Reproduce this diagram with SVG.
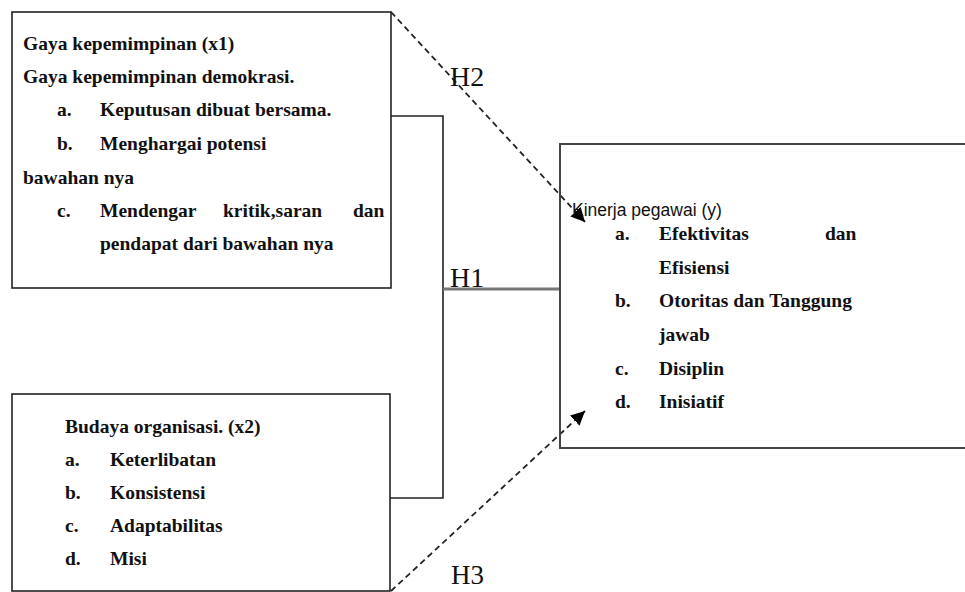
<svg xmlns="http://www.w3.org/2000/svg" width="965" height="592" viewBox="0 0 965 592">
<style>
.box{fill:#fff;stroke:#222;stroke-width:1.6}
.t{font-family:"Liberation Serif","Times New Roman",serif;font-weight:bold;font-size:19.5px;fill:#111}
.s{font-family:"Liberation Sans",Arial,sans-serif;font-size:17.5px;fill:#111}
.h{font-family:"Liberation Serif","Times New Roman",serif;font-size:28px;fill:#111}
.ln{fill:none;stroke:#222;stroke-width:1.6}
.dash{fill:none;stroke:#222;stroke-width:1.8;stroke-dasharray:6 4}
</style>
<defs>
<marker id="arr" viewBox="0 0 10 10" refX="10" refY="5" markerWidth="14" markerHeight="14" markerUnits="userSpaceOnUse" orient="auto">
<path d="M0,0 L10,5 L0,10 z" fill="#000"/>
</marker>
</defs>
<rect width="965" height="592" fill="#fff"/>
<g id="connectors">
<polyline class="ln" points="391,116 443,116 443,498 390,498"/>
<line x1="443" y1="289" x2="560" y2="289" stroke="#777" stroke-width="3"/>
<line class="dash" x1="391" y1="12" x2="585" y2="222" marker-end="url(#arr)"/>
<line class="dash" x1="391" y1="591" x2="585" y2="411" marker-end="url(#arr)"/>
<text class="h" x="450" y="86">H2</text>
<text class="h" x="450" y="287">H1</text>
<text class="h" x="451" y="584" style="font-size:27px">H3</text>
</g>
<g id="x1">
<rect class="box" x="12" y="12" width="379" height="276"/>
<text class="t" x="23" y="50">Gaya kepemimpinan (x1)</text>
<text class="t" x="23" y="83">Gaya kepemimpinan demokrasi.</text>
<text class="t" x="57" y="116">a.</text>
<text class="t" x="100" y="116">Keputusan dibuat bersama.</text>
<text class="t" x="57" y="150">b.</text>
<text class="t" x="100" y="150">Menghargai potensi</text>
<text class="t" x="23" y="184">bawahan nya</text>
<text class="t" x="57" y="217">c.</text>
<text class="t" x="100" y="217">Mendengar</text>
<text class="t" x="223" y="217">kritik,saran</text>
<text class="t" x="353" y="217">dan</text>
<text class="t" x="100" y="250">pendapat dari bawahan nya</text>
</g>
<g id="x2">
<rect class="box" x="12" y="394" width="378" height="197"/>
<text class="t" x="65" y="433">Budaya organisasi. (x2)</text>
<text class="t" x="65" y="466">a.</text>
<text class="t" x="110" y="466">Keterlibatan</text>
<text class="t" x="65" y="499">b.</text>
<text class="t" x="110" y="499">Konsistensi</text>
<text class="t" x="65" y="532">c.</text>
<text class="t" x="110" y="532">Adaptabilitas</text>
<text class="t" x="65" y="565">d.</text>
<text class="t" x="110" y="565">Misi</text>
</g>
<g id="y">
<rect x="560" y="144" width="420" height="304" fill="none" stroke="#444" stroke-width="2"/>
<text class="s" x="572" y="216">Kinerja pegawai (y)</text>
<text class="t" x="615" y="240">a.</text>
<text class="t" x="659" y="240">Efektivitas</text>
<text class="t" x="825" y="240">dan</text>
<text class="t" x="659" y="274">Efisiensi</text>
<text class="t" x="615" y="307">b.</text>
<text class="t" x="659" y="307">Otoritas dan Tanggung</text>
<text class="t" x="659" y="341">jawab</text>
<text class="t" x="615" y="375">c.</text>
<text class="t" x="659" y="375">Disiplin</text>
<text class="t" x="615" y="408">d.</text>
<text class="t" x="659" y="408">Inisiatif</text>
</g>
</svg>
